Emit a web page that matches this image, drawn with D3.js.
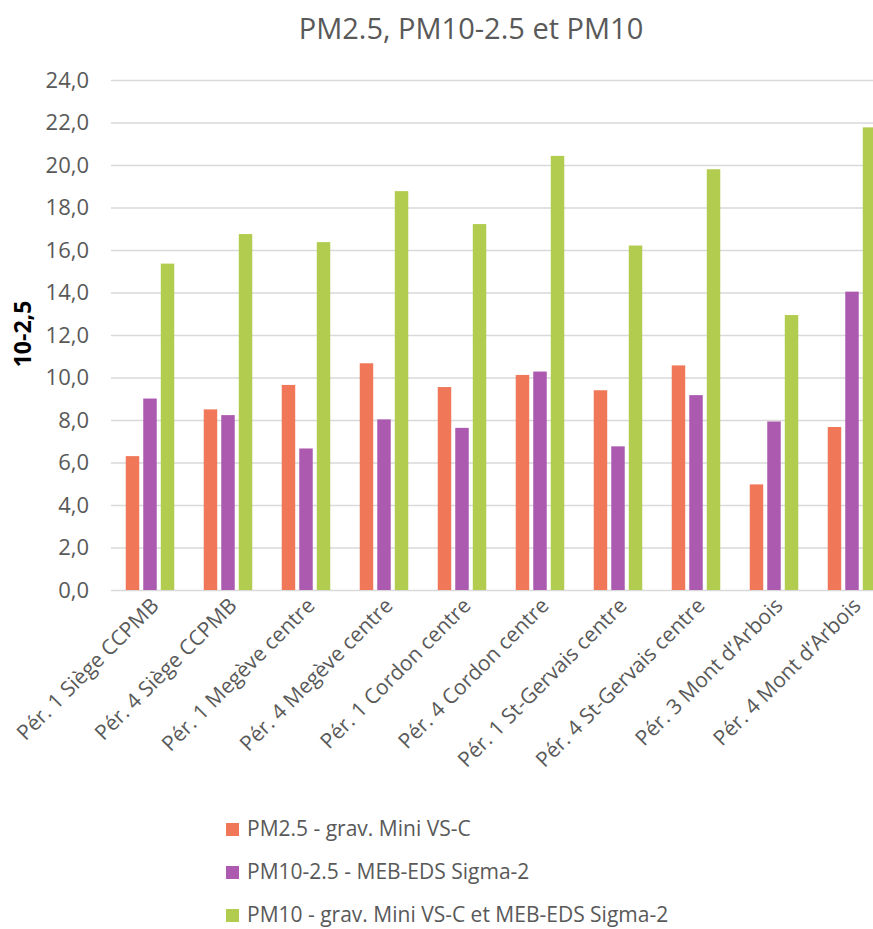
<!DOCTYPE html>
<html>
<head>
<meta charset="utf-8">
<script src="https://cdn.jsdelivr.net/npm/d3@7"></script>
<style>
  body { margin: 0; background: #fff; overflow: hidden; }
  text { font-family: "Open Sans", sans-serif; }
</style>
</head>
<body>
<div id="chart"></div>
<script>
// data
var categories = ["Pér. 1 Siège CCPMB", "Pér. 4 Siège CCPMB", "Pér. 1 Megève centre",
  "Pér. 4 Megève centre", "Pér. 1 Cordon centre", "Pér. 4 Cordon centre",
  "Pér. 1 St-Gervais centre", "Pér. 4 St-Gervais centre", "Pér. 3 Mont d’Arbois", "Pér. 4 Mont d’Arbois"]
var seriesNames = ["PM2.5 - grav. Mini VS-C", "PM10-2.5 - MEB-EDS Sigma-2",
  "PM10 - grav. Mini VS-C et MEB-EDS Sigma-2"]
var pm25 = [6.3, 8.5, 9.65, 10.67, 9.55, 10.12, 9.4, 10.57, 4.97, 7.67]
var pm10_25 = [9.01, 8.23, 6.66, 8.03, 7.63, 10.28, 6.76, 9.17, 7.93, 14.04]
var pm10 = [15.36, 16.75, 16.37, 18.77, 17.22, 20.43, 16.21, 19.8, 12.94, 21.77]
var yTicks = [0, 2, 4, 6, 8, 10, 12, 14, 16, 18, 20, 22, 24]
var colors = ["#F07858", "#AB5AAF", "#B1CC4F"]

var width = 873
    height = 929
    margin = {top: 80, right: -18, bottom: 339, left: 111}

var svg = d3.select("#chart")
  .append("svg")
    .attr("width", width)
    .attr("height", height)

var series = [pm25, pm10_25, pm10]

var x0 = d3.scaleBand()
  .domain(categories)
  .range([margin.left, width - margin.right])
  .paddingInner(0.378)
  .paddingOuter(0.189)

var x1 = d3.scaleBand()
  .domain(d3.range(series.length))
  .range([0, x0.bandwidth()])
  .paddingInner(0.23)

var y = d3.scaleLinear()
  .domain([0, 24])
  .range([height - margin.bottom, margin.top])

// title
svg.append("text")
  .attr("x", 471)
  .attr("y", 39)
  .attr("text-anchor", "middle")
  .style("font-size", "29px")
  .style("fill", "#595959")
  .text("PM2.5, PM10-2.5 et PM10")

// gridlines + y labels
var yAxis = svg.append("g")
  .attr("transform", "translate(" + margin.left + ",0)")
  .call(d3.axisLeft(y)
    .tickValues(yTicks)
    .tickSize(-(width - margin.left - margin.right))
    .tickPadding(22)
    .tickFormat(function(d) { return d3.format(".1f")(d).replace(".", ","); }))
yAxis.select(".domain").remove()
yAxis.selectAll("line").attr("stroke", "#D9D9D9").attr("stroke-width", 1.5)
yAxis.selectAll("text")
  .style("font-size", "22px")
  .style("fill", "#595959")
  .style("font-family", "'Open Sans', sans-serif")

// y axis title
svg.append("text")
  .attr("transform", "translate(31," + (y(12) - 1) + ") rotate(-90)")
  .attr("text-anchor", "middle")
  .style("font-size", "23px")
  .style("font-weight", "bold")
  .style("fill", "#000")
  .text("10-2,5")

// bars
var groups = svg.selectAll("g.grp")
  .data(categories)
  .enter()
  .append("g")
    .attr("class", "grp")
    .attr("transform", function(d) { return "translate(" + x0(d) + ",0)"; })

groups.selectAll("rect")
  .data(function(d, i) { return series.map(function(s, k) { return {k: k, v: s[i]}; }); })
  .enter()
  .append("rect")
    .attr("x", function(d) { return x1(d.k); })
    .attr("y", function(d) { return y(d.v); })
    .attr("width", x1.bandwidth())
    .attr("height", function(d) { return y(0) - y(d.v); })
    .attr("fill", function(d) { return colors[d.k]; })

// x labels rotated
svg.selectAll("text.xl")
  .data(categories)
  .enter()
  .append("text")
    .attr("class", "xl")
    .attr("text-anchor", "end")
    .attr("transform", function(d) {
      return "translate(" + (x0(d) + x0.bandwidth() / 2 + 10) + "," + (y(0) + 17) + ") rotate(-45)";
    })
    .style("font-size", "21px")
    .style("fill", "#595959")
    .text(function(d) { return d; })

// legend
var legend = svg.selectAll("g.leg")
  .data(seriesNames)
  .enter()
  .append("g")
    .attr("class", "leg")
    .attr("transform", function(d, i) { return "translate(226," + (829 + i * 43) + ")"; })

legend.append("rect")
  .attr("x", 0)
  .attr("y", -6)
  .attr("width", 13)
  .attr("height", 13)
  .attr("fill", function(d, i) { return colors[i]; })

legend.append("text")
  .attr("x", 21)
  .attr("y", 7)
  .style("font-size", "21px")
  .style("fill", "#595959")
  .text(function(d) { return d; })
</script>
</body>
</html>
